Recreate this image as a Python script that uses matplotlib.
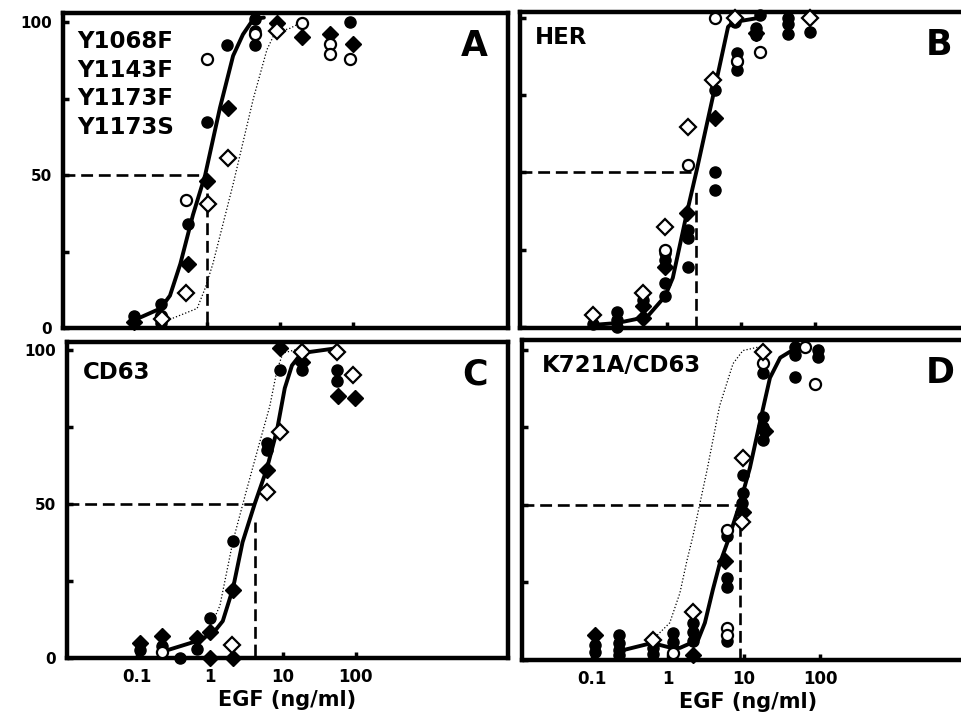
import matplotlib.pyplot as plt

plt.rcParams['font.family'] = 'DejaVu Sans'
plt.rcParams['font.weight'] = 'bold'

names = ['Y1068F\nY1143F\nY1173F\nY1173S', 'HER', 'CD63', 'K721A/CD63']
letters = ['A', 'B', 'C', 'D']
ec50 = [1.0, 2.5, 4.2, 8.9]
xticks = [0.1, 1, 10, 100]
xtick_labels = ['0.1', '1', '10', '100']

# panel A: Y1068F/Y1143F/Y1173F/Y1173S
a_fc_x = [0.10, 0.23, 0.23, 0.55, 1.0, 1.88, 4.5, 4.5, 4.5, 91]
a_fc_y = [4, 8, 1.5, 34, 67.5, 92.6, 101, 97, 92.6, 100]
a_oc_x = [0.23, 0.52, 1.0, 4.5, 20, 48, 48, 91]
a_oc_y = [4, 42, 88, 96, 99.7, 93, 89.6, 88]
a_fd_x = [0.10, 0.55, 1.0, 1.94, 9.1, 20, 48, 100]
a_fd_y = [2, 21, 48, 72, 99.7, 95, 96, 93]
a_od_x = [0.24, 0.52, 1.03, 1.94, 9.1]
a_od_y = [3, 11.6, 40.5, 55.6, 97]
a_fit_x = [0.11, 0.23, 0.31, 0.43, 0.64, 0.94, 1.5, 2.27, 3.1, 4.3, 6.0]
a_fit_y = [3, 6.4, 10.6, 21, 37, 50, 72, 89, 96, 101, 101.5]
a_ref_x = [0.23, 0.73, 0.94, 1.2, 2.27, 4.3, 6.6, 8.5, 13.7, 18.7]
a_ref_y = [1.6, 6.4, 13, 21, 47, 75, 91, 96.5, 98, 99.7]

# panel B: HER
b_fc_x = [0.1, 0.21, 0.21, 0.21, 0.47, 0.94, 0.94, 0.94, 0.94, 1.92, 1.92, 1.92,
          4.46, 4.46, 4.46, 8.8, 8.8, 8.8, 8.3, 18, 16, 16, 43, 43, 43, 85]
b_fc_y = [1, 5, 2.4, 0.2, 9, 10, 14.3, 24, 21.8, 19.6, 31.4, 28.8,
          50.2, 44.4, 76.6, 88.5, 85.6, 83, 98.5, 100.8, 96.6, 94.4, 100, 98, 94.7, 95.3]
b_oc_x = [0.94, 1.92, 4.5, 18, 8.8]
b_oc_y = [25, 52.4, 99.8, 88.9, 86]
b_fd_x = [0.48, 0.48, 0.94, 1.86, 4.46, 16]
b_fd_y = [7, 3, 19.6, 36.9, 67.6, 95]
b_od_x = [0.1, 0.47, 0.94, 1.9, 4.2, 8.3, 85]
b_od_y = [4, 11, 32.5, 64.7, 79.8, 100, 100]
b_fit_x = [0.1, 0.21, 0.54, 0.94, 1.2, 1.86, 2.54, 3.8, 4.9, 6.7, 7.8, 16.5, 18]
b_fit_y = [0.8, 1.4, 3.4, 10, 16, 37, 51, 70, 82, 97, 98.5, 99.8, 100.5]
b_ref_x = []
b_ref_y = []

# panel C: CD63
c_fc_x = [0.11, 0.22, 0.39, 0.66, 1.0, 2.07, 6.0, 6.0, 9.1, 18, 55, 55]
c_fc_y = [2.6, 3.8, 0, 3, 12.9, 38, 69.9, 67.7, 93.5, 93.5, 93.5, 90]
c_oc_x = [0.22]
c_oc_y = [2]
c_fd_x = [0.11, 0.22, 0.66, 1.0, 1.0, 2.07, 2.07, 6.0, 9.1, 18, 57, 97]
c_fd_y = [4.8, 7, 6.5, 0, 8.6, 22, 0, 61, 100.6, 96, 85, 84.5]
c_od_x = [2.0, 6.0, 9.1, 18, 55, 91]
c_od_y = [4.2, 53.8, 73.5, 99.5, 99.5, 92]
c_fit_x = [0.22, 0.66, 1.1, 1.5, 2.07, 2.8, 4.1, 6.0, 8.3, 10.6, 13.3, 18, 55]
c_fit_y = [2, 5.5, 8, 12, 22.6, 37.6, 50, 61.3, 74, 87.6, 95, 99, 100.6]
c_ref_x = [0.66, 1.0, 1.37, 2.07, 3.2, 4.8, 6.6, 8.3, 10, 18]
c_ref_y = [3, 9.7, 17, 38, 54.8, 70, 81.7, 93.5, 99, 100.6]

# panel D: K721A/CD63
d_fc_x = [0.11, 0.11, 0.23, 0.23, 0.23, 0.23, 0.63, 0.63, 1.16, 1.16, 2.13, 2.13, 2.13,
          6.0, 6.0, 6.0, 6.0, 9.7, 9.7, 9.5, 17.8, 17.8, 17.8, 17.8, 47, 47, 47, 94, 94]
d_fc_y = [4.8, 2.6, 8, 5.5, 3.2, 1.6, 4, 2, 8.7, 5.8, 12, 9, 6,
          6, 26.6, 23.4, 40, 59.7, 53.8, 50.6, 78.4, 75.2, 71, 92.6, 101, 98.4, 91.3, 100, 97.8]
d_oc_x = [1.16, 6.0, 6.0, 6.0, 17.8, 64, 86]
d_oc_y = [2.4, 10.3, 8, 42, 95.8, 101, 89]
d_fd_x = [0.11, 2.13, 5.6, 9.7, 19]
d_fd_y = [8, 1.6, 32, 47.8, 74]
d_od_x = [0.63, 2.13, 9.7, 9.5, 17.8]
d_od_y = [6.5, 15.5, 65, 44.5, 99.4]
d_fit_x = [0.26, 0.62, 1.0, 1.44, 2.5, 3.07, 3.9, 4.8, 6.0, 8.9, 12, 16, 22, 30, 44]
d_fit_y = [3.2, 5.5, 4.2, 3.9, 6.5, 12, 22.6, 31, 37.6, 50.6, 62, 76, 91, 97.5, 100]
d_ref_x = [0.63, 1.06, 1.44, 1.78, 2.13, 3.26, 4.8, 7.2, 9.7, 16]
d_ref_y = [6.5, 12, 21.6, 32, 39.8, 61, 82, 95.6, 99.8, 101]

panels = [
    (a_fc_x, a_fc_y, a_oc_x, a_oc_y, a_fd_x, a_fd_y, a_od_x, a_od_y, a_fit_x, a_fit_y, a_ref_x, a_ref_y),
    (b_fc_x, b_fc_y, b_oc_x, b_oc_y, b_fd_x, b_fd_y, b_od_x, b_od_y, b_fit_x, b_fit_y, b_ref_x, b_ref_y),
    (c_fc_x, c_fc_y, c_oc_x, c_oc_y, c_fd_x, c_fd_y, c_od_x, c_od_y, c_fit_x, c_fit_y, c_ref_x, c_ref_y),
    (d_fc_x, d_fc_y, d_oc_x, d_oc_y, d_fd_x, d_fd_y, d_od_x, d_od_y, d_fit_x, d_fit_y, d_ref_x, d_ref_y),
]

# layout (figure fractions) and axis ranges
rects = [[0.0655, 0.5406, 0.4626, 0.4412],
         [0.5405, 0.5406, 0.4709, 0.4426],
         [0.0696, 0.0784, 0.4584, 0.4426],
         [0.5426, 0.0756, 0.4709, 0.4482]]
xlims = [(0.0106, 13300), (0.0103, 13700), (0.0110, 12100), (0.0121, 10900)]
ylims = [(1.5, 103), (-0.2, 101.8), (0.6, 102.6), (0, 103.2)]
name_pos = [(0.031, 0.945), (0.033, 0.955), (0.036, 0.94), (0.044, 0.955)]

fig = plt.figure(figsize=(9.62, 7.14), dpi=100)

for i in range(4):
    fcx, fcy, ocx, ocy, fdx, fdy, odx, ody, fitx, fity, refx, refy = panels[i]
    ax = fig.add_axes(rects[i])
    ax.set_xscale('log')
    ax.set_xlim(xlims[i])
    ax.set_ylim(ylims[i])

    # EC50 guides
    ax.plot([xlims[i][0], ec50[i]], [50, 50], color='black', lw=1.9, ls=(0, (4.5, 2.2)))
    ax.plot([ec50[i], ec50[i]], [ylims[i][0], 44], color='black', lw=1.9, ls=(0, (4.5, 2.2)))

    if refx:
        ax.plot(refx, refy, color='black', lw=0.9, ls=':')
    ax.plot(fitx, fity, color='black', lw=2.8, solid_capstyle='round')

    ax.plot(fcx, fcy, 'o', ms=8, mfc='black', mec='black', ls='none', clip_on=False, zorder=4)
    ax.plot(fdx, fdy, 'D', ms=8.5, mfc='black', mec='black', ls='none', clip_on=False, zorder=4)
    ax.plot(ocx, ocy, 'o', ms=8, mfc='white', mec='black', mew=1.6, ls='none', clip_on=False, zorder=5)
    ax.plot(odx, ody, 'D', ms=8.5, mfc='white', mec='black', mew=1.6, ls='none', clip_on=False, zorder=5)

    ax.text(name_pos[i][0], name_pos[i][1], names[i], transform=ax.transAxes,
            fontsize=16.5, fontweight='bold', va='top', ha='left', linespacing=1.3)
    ax.text(0.955, 0.95, letters[i], transform=ax.transAxes,
            fontsize=25, fontweight='bold', va='top', ha='right')

    for s in ax.spines.values():
        s.set_linewidth(3.2)

    ax.set_xticks(xticks)
    ax.minorticks_off()
    ax.set_yticks([0, 25, 50, 75, 100])
    ax.tick_params(direction='in', length=4, width=2.5)
    ax.tick_params(axis='y', pad=8, labelsize=11)
    ax.tick_params(axis='x', pad=7, labelsize=12)

    if i in (0, 2):
        ax.set_yticklabels(['0', '', '50', '', '100'], fontweight='bold')
    else:
        ax.set_yticklabels([])
    if i in (2, 3):
        ax.set_xticklabels(xtick_labels, fontweight='bold')
        ax.set_xlabel('EGF (ng/ml)', fontsize=15, fontweight='bold', labelpad=3)
    else:
        ax.set_xticklabels([])

fig.savefig('out.png', dpi=100)
